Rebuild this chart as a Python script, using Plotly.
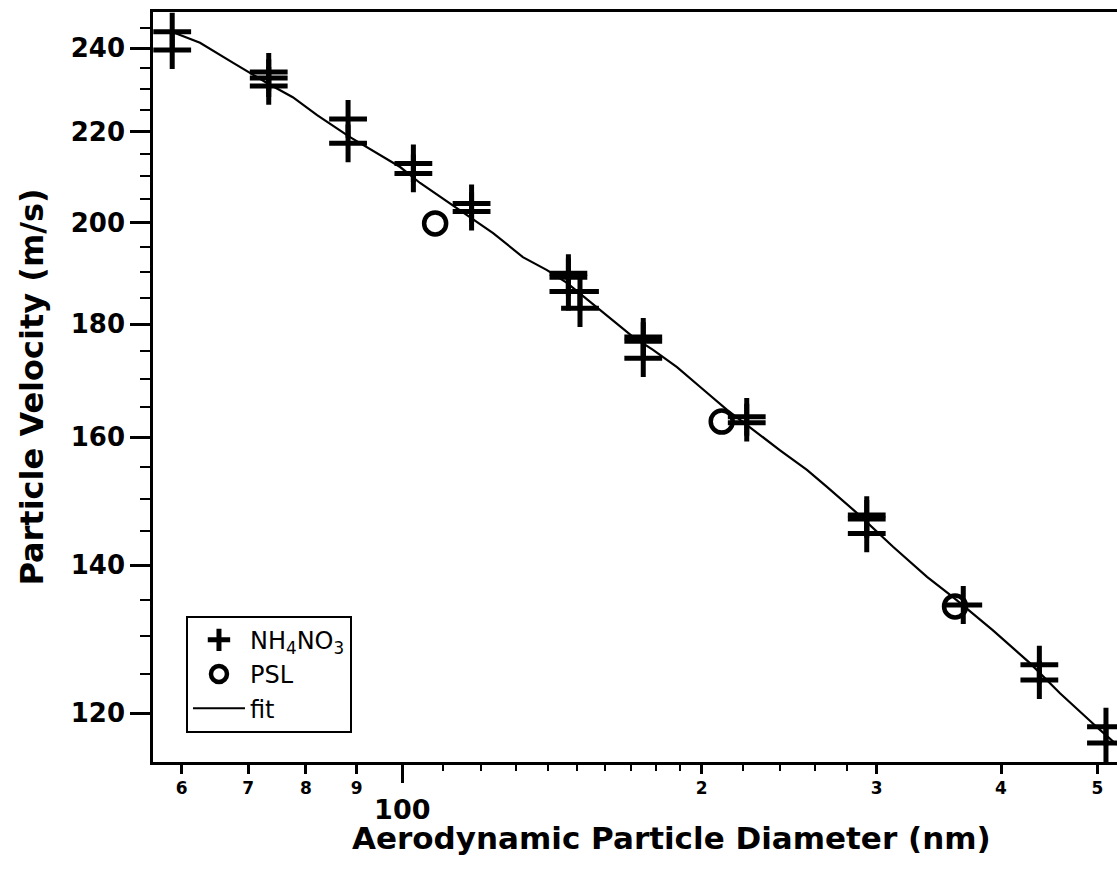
import plotly.graph_objects as go

# ---- data ----
nh4_d = [58.7, 58.7, 73.4, 73.4, 73.4, 88.2, 88.2, 102.6, 102.6, 117.4, 117.4,
         146.9, 146.9, 146.9, 150.9, 150.9, 174.7, 174.7, 174.7, 222.0, 222.0,
         293.1, 293.1, 293.1, 366.5, 437.1, 437.1, 510.0, 510.0]
nh4_v = [244.1, 239.5, 234.1, 232.6, 230.7, 222.9, 217.3, 212.8, 210.6, 204.1, 202.4,
         189.8, 189.0, 186.2, 186.2, 183.0, 177.6, 176.8, 173.7, 163.4, 162.4,
         147.5, 146.9, 144.7, 134.3, 126.2, 124.2, 118.3, 116.3]

psl_d = [107.9, 209.5, 359.6]
psl_v = [199.9, 162.6, 134.1]

fit_d = [58.8, 62.6, 67.6, 73.1, 77.6, 82.1, 88.6, 99.5, 104.2, 116.2, 123.4, 132.2,
         139.8, 146.4, 158.1, 170.6, 178.7, 188.9, 199.2, 212.1, 239.8, 255.2, 267.3,
         286.6, 311.5, 337.0, 357.9, 392.6, 427.7, 458.5, 503.0, 523.0]
fit_v = [244.0, 241.3, 236.3, 231.4, 228.0, 223.8, 218.7, 212.0, 208.5, 201.7, 197.9, 193.0,
         190.4, 187.9, 182.6, 177.6, 175.2, 172.1, 168.6, 164.6, 157.8, 154.6, 151.9,
         147.8, 142.7, 138.3, 135.4, 130.8, 126.4, 122.5, 117.9, 116.1]

x_major_vals = [60, 70, 80, 90, 200, 300, 400, 500]
x_major_text = ["6", "7", "8", "9", "2", "3", "4", "5"]
x_decade_vals = [100]
x_decade_text = ["100"]
x_minor_vals = [110, 120, 130, 140, 150, 160, 170, 180, 190, 220, 240, 260, 280]

y_major_vals = [120, 140, 160, 180, 200, 220, 240]
y_major_text = ["120", "140", "160", "180", "200", "220", "240"]
y_minor_vals = [125, 130, 135, 145, 150, 155, 165, 170, 175, 185, 190, 195,
                205, 210, 215, 225, 230, 235, 245]

x_range = [1.74932, 2.71866]
y_range = [2.0570, 2.39651]

FONT = "DejaVu Sans, Liberation Sans, Arial, sans-serif"

fig = go.Figure()

fig.add_trace(go.Scatter(
    x=nh4_d, y=nh4_v, mode="markers", name="NH<sub>4</sub>NO<sub>3</sub>",
    marker=dict(symbol="cross-thin", size=27, color="black",
                line=dict(width=5, color="black")),
))
fig.add_trace(go.Scatter(
    x=psl_d, y=psl_v, mode="markers", name="PSL",
    marker=dict(symbol="circle-open", size=22, color="black",
                line=dict(width=4.5, color="black")),
))
fig.add_trace(go.Scatter(
    x=fit_d, y=fit_v, mode="lines", name="fit",
    line=dict(color="black", width=2.2),
))
# invisible trace to activate second x axis for the digit labels
fig.add_trace(go.Scatter(
    x=[fit_d[0]], y=[fit_v[0]], xaxis="x2", mode="markers",
    marker=dict(opacity=0), showlegend=False, hoverinfo="skip",
))

fig.update_layout(
    width=1117, height=869,
    margin=dict(l=153, r=0, t=12, b=107),
    paper_bgcolor="white", plot_bgcolor="white",
    font=dict(family=FONT, color="black"),
    showlegend=True,
    legend=dict(
        x=0.0342, y=0.195, xanchor="left", yanchor="top",
        bordercolor="black", borderwidth=2, bgcolor="white",
        font=dict(family=FONT, size=24, color="black"),
        itemwidth=52, tracegroupgap=0,
    ),
    xaxis=dict(
        type="log", range=x_range, showgrid=False, zeroline=False,
        showline=True, linecolor="black", linewidth=2.5, mirror=True,
        ticks="outside", tickvals=x_decade_vals, ticktext=x_decade_text,
        ticklen=18, tickwidth=2.5, tickcolor="black",
        tickfont=dict(family=FONT, size=27, color="black", weight="bold"),
        ticklabelstandoff=4,
        minor=dict(ticks="outside", tickvals=x_minor_vals, ticklen=6,
                   tickwidth=2, tickcolor="black", showgrid=False),
    ),
    xaxis2=dict(
        type="log", range=x_range, overlaying="x", side="bottom", anchor="y",
        showgrid=False, zeroline=False, showline=False,
        ticks="outside", tickvals=x_major_vals, ticktext=x_major_text,
        ticklen=11, tickwidth=2.5, tickcolor="black",
        tickfont=dict(family=FONT, size=17, color="black", weight="bold"),
    ),
    yaxis=dict(
        type="log", range=y_range, showgrid=False, zeroline=False,
        showline=True, linecolor="black", linewidth=2.5, mirror=False,
        ticks="outside", tickvals=y_major_vals, ticktext=y_major_text,
        ticklen=20, tickwidth=2.5, tickcolor="black",
        tickfont=dict(family=FONT, size=26, color="black", weight="bold"),
        minor=dict(ticks="outside", tickvals=y_minor_vals, ticklen=10,
                   tickwidth=2, tickcolor="black", showgrid=False),
        title=dict(text="Particle Velocity (m/s)", standoff=18,
                   font=dict(family=FONT, size=32, color="black", weight="bold")),
    ),
    annotations=[dict(
        text="Aerodynamic Particle Diameter (nm)", xref="paper", yref="paper",
        x=0.538, y=-0.1013, xanchor="center", yanchor="middle", showarrow=False,
        font=dict(family=FONT, size=31, color="black", weight="bold"),
    )],
)

fig.write_html("out.html")
